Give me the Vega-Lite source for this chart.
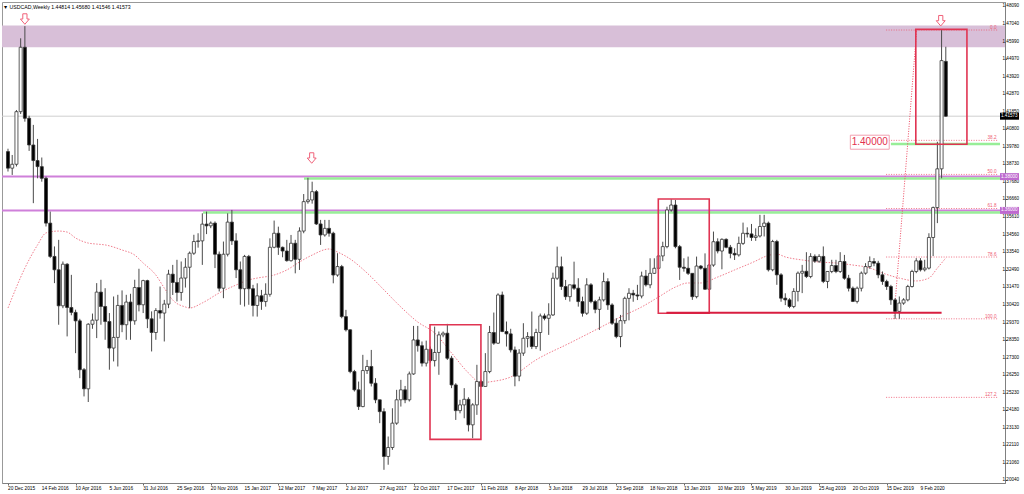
{
"$schema":"https://vega.github.io/schema/vega-lite/v6.json",
"width":1003,"height":481,"autosize":"none",
"padding":{"left":2,"top":2,"right":19,"bottom":11},
"background":"#ffffff",
"config":{"view":{"stroke":"#999999"},"font":"Liberation Sans","axis":{"labelOverlap":false,"labelFlush":false,"labelBound":false,"grid":false}},
"title":{"text":"▼ USDCAD,Weekly  1.44814 1.45680 1.41546 1.41573","anchor":"start","offset":-8,"dx":2,"fontSize":5.2,"fontWeight":"normal","font":"Liberation Sans","color":"#000000"},
"datasets":{
"c":[
{"d":"2015-12-20","o":1.3948,"h":1.3965,"l":1.3830,"c":1.3850},
{"d":"2015-12-27","o":1.3850,"h":1.3928,"l":1.3810,"c":1.3873},
{"d":"2016-01-03","o":1.3873,"h":1.4194,"l":1.3860,"c":1.4184},
{"d":"2016-01-10","o":1.4184,"h":1.4618,"l":1.4170,"c":1.4565},
{"d":"2016-01-17","o":1.4565,"h":1.4690,"l":1.4125,"c":1.4145},
{"d":"2016-01-24","o":1.4145,"h":1.4160,"l":1.3952,"c":1.3987},
{"d":"2016-01-31","o":1.3987,"h":1.4106,"l":1.3643,"c":1.3895},
{"d":"2016-02-07","o":1.3895,"h":1.4023,"l":1.3790,"c":1.3859},
{"d":"2016-02-14","o":1.3859,"h":1.3913,"l":1.3770,"c":1.3790},
{"d":"2016-02-21","o":1.3790,"h":1.3800,"l":1.3505,"c":1.3525},
{"d":"2016-02-28","o":1.3525,"h":1.3593,"l":1.3318,"c":1.3328},
{"d":"2016-03-06","o":1.3328,"h":1.3387,"l":1.3170,"c":1.3249},
{"d":"2016-03-13","o":1.3249,"h":1.3426,"l":1.2924,"c":1.3036},
{"d":"2016-03-20","o":1.3036,"h":1.3298,"l":1.3022,"c":1.3282},
{"d":"2016-03-27","o":1.3282,"h":1.3288,"l":1.2855,"c":1.3026},
{"d":"2016-04-03","o":1.3026,"h":1.3219,"l":1.2980,"c":1.2997},
{"d":"2016-04-10","o":1.2997,"h":1.3013,"l":1.2756,"c":1.2947},
{"d":"2016-04-17","o":1.2947,"h":1.2959,"l":1.2608,"c":1.2658},
{"d":"2016-04-24","o":1.2658,"h":1.2668,"l":1.2500,"c":1.2545},
{"d":"2016-05-01","o":1.2545,"h":1.2933,"l":1.2467,"c":1.2927},
{"d":"2016-05-08","o":1.2927,"h":1.2990,"l":1.2900,"c":1.2951},
{"d":"2016-05-15","o":1.2951,"h":1.3170,"l":1.2845,"c":1.3117},
{"d":"2016-05-22","o":1.3117,"h":1.3190,"l":1.2924,"c":1.3032},
{"d":"2016-05-29","o":1.3032,"h":1.3140,"l":1.2835,"c":1.2943},
{"d":"2016-06-05","o":1.2943,"h":1.2993,"l":1.2658,"c":1.2786},
{"d":"2016-06-12","o":1.2786,"h":1.3091,"l":1.2707,"c":1.2849},
{"d":"2016-06-19","o":1.2849,"h":1.3101,"l":1.2677,"c":1.3038},
{"d":"2016-06-26","o":1.3038,"h":1.3127,"l":1.2880,"c":1.2924},
{"d":"2016-07-03","o":1.2924,"h":1.3101,"l":1.2835,"c":1.3058},
{"d":"2016-07-10","o":1.3058,"h":1.3107,"l":1.2835,"c":1.2947},
{"d":"2016-07-17","o":1.2947,"h":1.3190,"l":1.2924,"c":1.3144},
{"d":"2016-07-24","o":1.3144,"h":1.3255,"l":1.3003,"c":1.3042},
{"d":"2016-07-31","o":1.3042,"h":1.3190,"l":1.2993,"c":1.3185},
{"d":"2016-08-07","o":1.3185,"h":1.3190,"l":1.2904,"c":1.2959},
{"d":"2016-08-14","o":1.2959,"h":1.3003,"l":1.2766,"c":1.2878},
{"d":"2016-08-21","o":1.2878,"h":1.3022,"l":1.2835,"c":1.3008},
{"d":"2016-08-28","o":1.3008,"h":1.3150,"l":1.2960,"c":1.2993},
{"d":"2016-09-04","o":1.2993,"h":1.3071,"l":1.2825,"c":1.3046},
{"d":"2016-09-11","o":1.3046,"h":1.3249,"l":1.3022,"c":1.3223},
{"d":"2016-09-18","o":1.3223,"h":1.3278,"l":1.3100,"c":1.3174},
{"d":"2016-09-25","o":1.3174,"h":1.3308,"l":1.3062,"c":1.3115},
{"d":"2016-10-02","o":1.3115,"h":1.3298,"l":1.3066,"c":1.3200},
{"d":"2016-10-09","o":1.3200,"h":1.3318,"l":1.3144,"c":1.3264},
{"d":"2016-10-16","o":1.3264,"h":1.3357,"l":1.3022,"c":1.3347},
{"d":"2016-10-23","o":1.3347,"h":1.3456,"l":1.3337,"c":1.3416},
{"d":"2016-10-30","o":1.3416,"h":1.3465,"l":1.3380,"c":1.3420},
{"d":"2016-11-06","o":1.3420,"h":1.3583,"l":1.3278,"c":1.3519},
{"d":"2016-11-13","o":1.3519,"h":1.3593,"l":1.3460,"c":1.3509},
{"d":"2016-11-20","o":1.3509,"h":1.3535,"l":1.3495,"c":1.3525},
{"d":"2016-11-27","o":1.3525,"h":1.3535,"l":1.3259,"c":1.3341},
{"d":"2016-12-04","o":1.3341,"h":1.3357,"l":1.3121,"c":1.3140},
{"d":"2016-12-11","o":1.3140,"h":1.3416,"l":1.3081,"c":1.3341},
{"d":"2016-12-18","o":1.3341,"h":1.3583,"l":1.3328,"c":1.3531},
{"d":"2016-12-25","o":1.3531,"h":1.3603,"l":1.3396,"c":1.3420},
{"d":"2017-01-01","o":1.3420,"h":1.3465,"l":1.3200,"c":1.3249},
{"d":"2017-01-08","o":1.3249,"h":1.3298,"l":1.3042,"c":1.3137},
{"d":"2017-01-15","o":1.3137,"h":1.3337,"l":1.3032,"c":1.3328},
{"d":"2017-01-22","o":1.3328,"h":1.3337,"l":1.3042,"c":1.3137},
{"d":"2017-01-29","o":1.3137,"h":1.3160,"l":1.2973,"c":1.3038},
{"d":"2017-02-05","o":1.3038,"h":1.3169,"l":1.2972,"c":1.3095},
{"d":"2017-02-12","o":1.3095,"h":1.3130,"l":1.3012,"c":1.3061},
{"d":"2017-02-19","o":1.3061,"h":1.3169,"l":1.3031,"c":1.3104},
{"d":"2017-02-26","o":1.3104,"h":1.3435,"l":1.3090,"c":1.3382},
{"d":"2017-03-05","o":1.3382,"h":1.3540,"l":1.3376,"c":1.3465},
{"d":"2017-03-12","o":1.3465,"h":1.3504,"l":1.3337,"c":1.3382},
{"d":"2017-03-19","o":1.3382,"h":1.3386,"l":1.3323,"c":1.3360},
{"d":"2017-03-26","o":1.3360,"h":1.3426,"l":1.3297,"c":1.3303},
{"d":"2017-04-02","o":1.3303,"h":1.3455,"l":1.3297,"c":1.3406},
{"d":"2017-04-09","o":1.3406,"h":1.3426,"l":1.3228,"c":1.3311},
{"d":"2017-04-16","o":1.3311,"h":1.3500,"l":1.3248,"c":1.3478},
{"d":"2017-04-23","o":1.3478,"h":1.3697,"l":1.3465,"c":1.3652},
{"d":"2017-04-30","o":1.3652,"h":1.3793,"l":1.3640,"c":1.3662},
{"d":"2017-05-07","o":1.3662,"h":1.3770,"l":1.3640,"c":1.3711},
{"d":"2017-05-14","o":1.3711,"h":1.3721,"l":1.3514,"c":1.3520},
{"d":"2017-05-21","o":1.3520,"h":1.3544,"l":1.3396,"c":1.3455},
{"d":"2017-05-28","o":1.3455,"h":1.3544,"l":1.3445,"c":1.3494},
{"d":"2017-06-04","o":1.3494,"h":1.3544,"l":1.3445,"c":1.3465},
{"d":"2017-06-11","o":1.3465,"h":1.3474,"l":1.3169,"c":1.3218},
{"d":"2017-06-18","o":1.3218,"h":1.3347,"l":1.3208,"c":1.3268},
{"d":"2017-06-25","o":1.3268,"h":1.3278,"l":1.2962,"c":1.2972},
{"d":"2017-07-02","o":1.2972,"h":1.3012,"l":1.2884,"c":1.2894},
{"d":"2017-07-09","o":1.2894,"h":1.2897,"l":1.2637,"c":1.2647},
{"d":"2017-07-16","o":1.2647,"h":1.2657,"l":1.2529,"c":1.2539},
{"d":"2017-07-23","o":1.2539,"h":1.2588,"l":1.2420,"c":1.2440},
{"d":"2017-07-30","o":1.2440,"h":1.2746,"l":1.2436,"c":1.2653},
{"d":"2017-08-06","o":1.2653,"h":1.2716,"l":1.2633,"c":1.2677},
{"d":"2017-08-13","o":1.2677,"h":1.2775,"l":1.2559,"c":1.2578},
{"d":"2017-08-20","o":1.2578,"h":1.2608,"l":1.2460,"c":1.2480},
{"d":"2017-08-27","o":1.2480,"h":1.2480,"l":1.2342,"c":1.2410},
{"d":"2017-09-03","o":1.2410,"h":1.2430,"l":1.2066,"c":1.2145},
{"d":"2017-09-10","o":1.2145,"h":1.2263,"l":1.2096,"c":1.2198},
{"d":"2017-09-17","o":1.2198,"h":1.2430,"l":1.2184,"c":1.2342},
{"d":"2017-09-24","o":1.2342,"h":1.2539,"l":1.2332,"c":1.2480},
{"d":"2017-10-01","o":1.2480,"h":1.2598,"l":1.2440,"c":1.2539},
{"d":"2017-10-08","o":1.2539,"h":1.2562,"l":1.2460,"c":1.2480},
{"d":"2017-10-15","o":1.2480,"h":1.2647,"l":1.2470,"c":1.2633},
{"d":"2017-10-22","o":1.2633,"h":1.2917,"l":1.2628,"c":1.2834},
{"d":"2017-10-29","o":1.2834,"h":1.2917,"l":1.2765,"c":1.2800},
{"d":"2017-11-05","o":1.2800,"h":1.2825,"l":1.2677,"c":1.2697},
{"d":"2017-11-12","o":1.2697,"h":1.2830,"l":1.2677,"c":1.2779},
{"d":"2017-11-19","o":1.2779,"h":1.2795,"l":1.2700,"c":1.2712},
{"d":"2017-11-26","o":1.2712,"h":1.2913,"l":1.2677,"c":1.2760},
{"d":"2017-12-03","o":1.2760,"h":1.2884,"l":1.2628,"c":1.2864},
{"d":"2017-12-10","o":1.2864,"h":1.2884,"l":1.2850,"c":1.2874},
{"d":"2017-12-17","o":1.2874,"h":1.2929,"l":1.2716,"c":1.2726},
{"d":"2017-12-24","o":1.2726,"h":1.2740,"l":1.2549,"c":1.2568},
{"d":"2017-12-31","o":1.2568,"h":1.2578,"l":1.2361,"c":1.2416},
{"d":"2018-01-07","o":1.2416,"h":1.2480,"l":1.2400,"c":1.2450},
{"d":"2018-01-14","o":1.2450,"h":1.2549,"l":1.2371,"c":1.2483},
{"d":"2018-01-21","o":1.2483,"h":1.2495,"l":1.2293,"c":1.2332},
{"d":"2018-01-28","o":1.2332,"h":1.2460,"l":1.2253,"c":1.2450},
{"d":"2018-02-04","o":1.2450,"h":1.2687,"l":1.2391,"c":1.2588},
{"d":"2018-02-11","o":1.2588,"h":1.2598,"l":1.2555,"c":1.2559},
{"d":"2018-02-18","o":1.2559,"h":1.2756,"l":1.2559,"c":1.2647},
{"d":"2018-02-25","o":1.2647,"h":1.2917,"l":1.2637,"c":1.2878},
{"d":"2018-03-04","o":1.2878,"h":1.2996,"l":1.2805,"c":1.2815},
{"d":"2018-03-11","o":1.2815,"h":1.3110,"l":1.2810,"c":1.3100},
{"d":"2018-03-18","o":1.3100,"h":1.3120,"l":1.2880,"c":1.2884},
{"d":"2018-03-25","o":1.2884,"h":1.2943,"l":1.2795,"c":1.2870},
{"d":"2018-04-01","o":1.2870,"h":1.2900,"l":1.2760,"c":1.2775},
{"d":"2018-04-08","o":1.2775,"h":1.2795,"l":1.2560,"c":1.2620},
{"d":"2018-04-15","o":1.2620,"h":1.2780,"l":1.2590,"c":1.2756},
{"d":"2018-04-22","o":1.2756,"h":1.2933,"l":1.2740,"c":1.2844},
{"d":"2018-04-29","o":1.2844,"h":1.2880,"l":1.2790,"c":1.2854},
{"d":"2018-05-06","o":1.2854,"h":1.3002,"l":1.2780,"c":1.2795},
{"d":"2018-05-13","o":1.2795,"h":1.2900,"l":1.2780,"c":1.2878},
{"d":"2018-05-20","o":1.2878,"h":1.2990,"l":1.2770,"c":1.2976},
{"d":"2018-05-27","o":1.2976,"h":1.2990,"l":1.2950,"c":1.2962},
{"d":"2018-06-03","o":1.2962,"h":1.3051,"l":1.2864,"c":1.2982},
{"d":"2018-06-10","o":1.2982,"h":1.3232,"l":1.2976,"c":1.3199},
{"d":"2018-06-17","o":1.3199,"h":1.3386,"l":1.3189,"c":1.3267},
{"d":"2018-06-24","o":1.3267,"h":1.3327,"l":1.3130,"c":1.3150},
{"d":"2018-07-01","o":1.3150,"h":1.3189,"l":1.3071,"c":1.3090},
{"d":"2018-07-08","o":1.3090,"h":1.3160,"l":1.3061,"c":1.3160},
{"d":"2018-07-15","o":1.3160,"h":1.3297,"l":1.3130,"c":1.3140},
{"d":"2018-07-22","o":1.3140,"h":1.3199,"l":1.3031,"c":1.3061},
{"d":"2018-07-29","o":1.3061,"h":1.3090,"l":1.2972,"c":1.2992},
{"d":"2018-08-05","o":1.2992,"h":1.3199,"l":1.2982,"c":1.3160},
{"d":"2018-08-12","o":1.3160,"h":1.3170,"l":1.3051,"c":1.3061},
{"d":"2018-08-19","o":1.3061,"h":1.3071,"l":1.2992,"c":1.3015},
{"d":"2018-08-26","o":1.3015,"h":1.3090,"l":1.2893,"c":1.3071},
{"d":"2018-09-02","o":1.3071,"h":1.3232,"l":1.3061,"c":1.3179},
{"d":"2018-09-09","o":1.3179,"h":1.3199,"l":1.3012,"c":1.3041},
{"d":"2018-09-16","o":1.3041,"h":1.3051,"l":1.2923,"c":1.2933},
{"d":"2018-09-23","o":1.2933,"h":1.2962,"l":1.2844,"c":1.2854},
{"d":"2018-09-30","o":1.2854,"h":1.2982,"l":1.2791,"c":1.2948},
{"d":"2018-10-07","o":1.2948,"h":1.3090,"l":1.2930,"c":1.3080},
{"d":"2018-10-14","o":1.3080,"h":1.3140,"l":1.2950,"c":1.3110},
{"d":"2018-10-21","o":1.3110,"h":1.3130,"l":1.3060,"c":1.3100},
{"d":"2018-10-28","o":1.3100,"h":1.3160,"l":1.3070,"c":1.3094},
{"d":"2018-11-04","o":1.3094,"h":1.3238,"l":1.3080,"c":1.3212},
{"d":"2018-11-11","o":1.3212,"h":1.3248,"l":1.3150,"c":1.3160},
{"d":"2018-11-18","o":1.3160,"h":1.3317,"l":1.3140,"c":1.3228},
{"d":"2018-11-25","o":1.3228,"h":1.3317,"l":1.3224,"c":1.3258},
{"d":"2018-12-02","o":1.3258,"h":1.3331,"l":1.3250,"c":1.3331},
{"d":"2018-12-09","o":1.3331,"h":1.3415,"l":1.3300,"c":1.3386},
{"d":"2018-12-16","o":1.3386,"h":1.3622,"l":1.3376,"c":1.3603},
{"d":"2018-12-23","o":1.3603,"h":1.3666,"l":1.3593,"c":1.3632},
{"d":"2018-12-30","o":1.3632,"h":1.3662,"l":1.3376,"c":1.3386},
{"d":"2019-01-06","o":1.3386,"h":1.3396,"l":1.3189,"c":1.3264},
{"d":"2019-01-13","o":1.3264,"h":1.3317,"l":1.3238,"c":1.3258},
{"d":"2019-01-20","o":1.3258,"h":1.3327,"l":1.3218,"c":1.3228},
{"d":"2019-01-27","o":1.3228,"h":1.3228,"l":1.3071,"c":1.3090},
{"d":"2019-02-03","o":1.3090,"h":1.3327,"l":1.3080,"c":1.3271},
{"d":"2019-02-10","o":1.3271,"h":1.3277,"l":1.3250,"c":1.3258},
{"d":"2019-02-17","o":1.3258,"h":1.3346,"l":1.3130,"c":1.3134},
{"d":"2019-02-24","o":1.3134,"h":1.3283,"l":1.3130,"c":1.3277},
{"d":"2019-03-03","o":1.3277,"h":1.3475,"l":1.3267,"c":1.3415},
{"d":"2019-03-10","o":1.3415,"h":1.3435,"l":1.3346,"c":1.3360},
{"d":"2019-03-17","o":1.3360,"h":1.3435,"l":1.3252,"c":1.3429},
{"d":"2019-03-24","o":1.3429,"h":1.3435,"l":1.3376,"c":1.3382},
{"d":"2019-03-31","o":1.3382,"h":1.3396,"l":1.3317,"c":1.3346},
{"d":"2019-04-07","o":1.3346,"h":1.3376,"l":1.3307,"c":1.3337},
{"d":"2019-04-14","o":1.3337,"h":1.3445,"l":1.3327,"c":1.3405},
{"d":"2019-04-21","o":1.3405,"h":1.3528,"l":1.3396,"c":1.3465},
{"d":"2019-04-28","o":1.3465,"h":1.3500,"l":1.3440,"c":1.3461},
{"d":"2019-05-05","o":1.3461,"h":1.3520,"l":1.3420,"c":1.3440},
{"d":"2019-05-12","o":1.3440,"h":1.3494,"l":1.3420,"c":1.3449},
{"d":"2019-05-19","o":1.3449,"h":1.3574,"l":1.3440,"c":1.3505},
{"d":"2019-05-26","o":1.3505,"h":1.3574,"l":1.3446,"c":1.3525},
{"d":"2019-06-02","o":1.3525,"h":1.3534,"l":1.3239,"c":1.3249},
{"d":"2019-06-09","o":1.3249,"h":1.3426,"l":1.3240,"c":1.3416},
{"d":"2019-06-16","o":1.3416,"h":1.3426,"l":1.3160,"c":1.3219},
{"d":"2019-06-23","o":1.3219,"h":1.3229,"l":1.3060,"c":1.3081},
{"d":"2019-06-30","o":1.3081,"h":1.3110,"l":1.3040,"c":1.3071},
{"d":"2019-07-07","o":1.3071,"h":1.3081,"l":1.3022,"c":1.3032},
{"d":"2019-07-14","o":1.3032,"h":1.3140,"l":1.3022,"c":1.3121},
{"d":"2019-07-21","o":1.3121,"h":1.3239,"l":1.3062,"c":1.3229},
{"d":"2019-07-28","o":1.3229,"h":1.3278,"l":1.3111,"c":1.3240},
{"d":"2019-08-04","o":1.3240,"h":1.3353,"l":1.3200,"c":1.3209},
{"d":"2019-08-11","o":1.3209,"h":1.3347,"l":1.3199,"c":1.3328},
{"d":"2019-08-18","o":1.3328,"h":1.3340,"l":1.3290,"c":1.3300},
{"d":"2019-08-25","o":1.3300,"h":1.3341,"l":1.3290,"c":1.3328},
{"d":"2019-09-01","o":1.3328,"h":1.3387,"l":1.3170,"c":1.3180},
{"d":"2019-09-08","o":1.3180,"h":1.3239,"l":1.3140,"c":1.3239},
{"d":"2019-09-15","o":1.3239,"h":1.3308,"l":1.3229,"c":1.3274},
{"d":"2019-09-22","o":1.3274,"h":1.3308,"l":1.3229,"c":1.3239},
{"d":"2019-09-29","o":1.3239,"h":1.3353,"l":1.3230,"c":1.3298},
{"d":"2019-10-06","o":1.3298,"h":1.3337,"l":1.3190,"c":1.3199},
{"d":"2019-10-13","o":1.3199,"h":1.3219,"l":1.3121,"c":1.3140},
{"d":"2019-10-20","o":1.3140,"h":1.3150,"l":1.3058,"c":1.3062},
{"d":"2019-10-27","o":1.3062,"h":1.3150,"l":1.3050,"c":1.3140},
{"d":"2019-11-03","o":1.3140,"h":1.3239,"l":1.3121,"c":1.3229},
{"d":"2019-11-10","o":1.3229,"h":1.3288,"l":1.3220,"c":1.3268},
{"d":"2019-11-17","o":1.3268,"h":1.3328,"l":1.3255,"c":1.3298},
{"d":"2019-11-24","o":1.3298,"h":1.3318,"l":1.3270,"c":1.3288},
{"d":"2019-12-01","o":1.3288,"h":1.3302,"l":1.3199,"c":1.3219},
{"d":"2019-12-08","o":1.3219,"h":1.3239,"l":1.3160,"c":1.3180},
{"d":"2019-12-15","o":1.3180,"h":1.3190,"l":1.3130,"c":1.3150},
{"d":"2019-12-22","o":1.3150,"h":1.3160,"l":1.3042,"c":1.3071},
{"d":"2019-12-29","o":1.3071,"h":1.3081,"l":1.2959,"c":1.3003},
{"d":"2020-01-05","o":1.3003,"h":1.3091,"l":1.2959,"c":1.3052},
{"d":"2020-01-12","o":1.3052,"h":1.3081,"l":1.3042,"c":1.3071},
{"d":"2020-01-19","o":1.3071,"h":1.3160,"l":1.3062,"c":1.3150},
{"d":"2020-01-26","o":1.3150,"h":1.3249,"l":1.3144,"c":1.3239},
{"d":"2020-02-02","o":1.3239,"h":1.3318,"l":1.3229,"c":1.3302},
{"d":"2020-02-09","o":1.3302,"h":1.3318,"l":1.3239,"c":1.3249},
{"d":"2020-02-16","o":1.3249,"h":1.3308,"l":1.3239,"c":1.3259},
{"d":"2020-02-23","o":1.3259,"h":1.3465,"l":1.3251,"c":1.3440},
{"d":"2020-03-01","o":1.3440,"h":1.3623,"l":1.3330,"c":1.3617},
{"d":"2020-03-08","o":1.3617,"h":1.4006,"l":1.3525,"c":1.3846},
{"d":"2020-03-15","o":1.3846,"h":1.4667,"l":1.3790,"c":1.4486},
{"d":"2020-03-22","o":1.44814,"h":1.4568,"l":1.41546,"c":1.41573}
],
"ma":[
{"d":"2015-12-20","v":1.3023},{"d":"2016-01-17","v":1.3259},{"d":"2016-02-07","v":1.3396},{"d":"2016-02-21","v":1.3467},{"d":"2016-03-13","v":1.3478},{"d":"2016-03-27","v":1.3472},{"d":"2016-04-10","v":1.3437},{"d":"2016-05-01","v":1.3407},{"d":"2016-05-15","v":1.3401},{"d":"2016-05-29","v":1.3396},{"d":"2016-06-26","v":1.3366},{"d":"2016-07-17","v":1.3336},{"d":"2016-07-31","v":1.3289},{"d":"2016-08-21","v":1.3218},{"d":"2016-09-04","v":1.3141},{"d":"2016-09-18","v":1.3070},{"d":"2016-10-09","v":1.3029},{"d":"2016-10-16","v":1.3023},{"d":"2016-11-06","v":1.3053},{"d":"2016-12-04","v":1.3112},{"d":"2017-01-01","v":1.3159},{"d":"2017-01-22","v":1.3189},{"d":"2017-02-05","v":1.3200},{"d":"2017-03-05","v":1.3218},{"d":"2017-03-26","v":1.3248},{"d":"2017-04-16","v":1.3295},{"d":"2017-05-07","v":1.3336},{"d":"2017-06-04","v":1.3372},{"d":"2017-06-18","v":1.3354},{"d":"2017-07-09","v":1.3313},{"d":"2017-08-06","v":1.3230},{"d":"2017-09-03","v":1.3130},{"d":"2017-10-01","v":1.3029},{"d":"2017-10-29","v":1.2940},{"d":"2017-11-26","v":1.2875},{"d":"2017-12-24","v":1.2757},{"d":"2018-01-21","v":1.2639},{"d":"2018-02-11","v":1.2580},{"d":"2018-02-25","v":1.2586},{"d":"2018-04-01","v":1.2615},{"d":"2018-05-13","v":1.2716},{"d":"2018-07-08","v":1.2816},{"d":"2018-08-26","v":1.2905},{"d":"2018-09-30","v":1.2970},{"d":"2018-11-04","v":1.3029},{"d":"2018-12-02","v":1.3088},{"d":"2018-12-30","v":1.3147},{"d":"2019-01-20","v":1.3171},{"d":"2019-02-10","v":1.3171},{"d":"2019-03-10","v":1.3206},{"d":"2019-04-07","v":1.3248},{"d":"2019-05-12","v":1.3301},{"d":"2019-05-26","v":1.3325},{"d":"2019-06-16","v":1.3342},{"d":"2019-06-30","v":1.3325},{"d":"2019-07-28","v":1.3307},{"d":"2019-08-25","v":1.3295},{"d":"2019-09-22","v":1.3289},{"d":"2019-10-20","v":1.3277},{"d":"2019-11-17","v":1.3260},{"d":"2019-12-08","v":1.3230},{"d":"2020-01-05","v":1.3200},{"d":"2020-02-02","v":1.3183},{"d":"2020-02-23","v":1.3200},{"d":"2020-03-08","v":1.3259},{"d":"2020-03-22","v":1.3319}
],
"green":[
{"a":"2017-04-23T12:00:00Z","b":"2020-06-19T19:00:00Z","p":1.3789},
{"a":"2016-11-07T05:00:00Z","b":"2020-06-19T19:00:00Z","p":1.3588},
{"a":"2019-12-22T00:00:00Z","b":"2020-06-19T19:00:00Z","p":1.3993}
],
"boxes":[
{"a":"2017-11-18T07:00:00Z","b":"2018-02-10T16:00:00Z","top":1.2924,"bot":1.2246},
{"a":"2018-12-01T14:00:00Z","b":"2019-02-24T00:00:00Z","top":1.3668,"bot":1.2992},
{"a":"2020-02-01T07:00:00Z","b":"2020-04-26T00:00:00Z","top":1.4671,"bot":1.3991}
],
"fib":[
{"p":1.4667,"t":"0.0"},{"p":1.40145,"t":"38.2"},{"p":1.3813,"t":"50.0"},{"p":1.36114,"t":"61.8"},{"p":1.33245,"t":"78.6"},{"p":1.2959,"t":"100.0"},{"p":1.24944,"t":"127.2"}
],
"arrows":[
{"d":"2016-01-17T00:00:00Z","p":1.4732},
{"d":"2017-05-06T07:00:00Z","p":1.3910},
{"d":"2020-03-13T14:00:00Z","p":1.4722}
],
"tags":[
{"p":1.41573,"t":"1.41573","k":"cur"},{"p":1.38,"t":"1.38000","k":"lvl"},{"p":1.36,"t":"1.36000","k":"lvl"}
],
"ylab":[
{"v":1.2004,"t":"1.20040"},{"v":1.2106,"t":"1.21060"},{"v":1.2211,"t":"1.22110"},{"v":1.2313,"t":"1.23130"},{"v":1.2418,"t":"1.24180"},{"v":1.2523,"t":"1.25230"},{"v":1.2625,"t":"1.26250"},{"v":1.273,"t":"1.27300"},{"v":1.2835,"t":"1.28350"},{"v":1.2937,"t":"1.29370"},{"v":1.3042,"t":"1.30420"},{"v":1.3147,"t":"1.31470"},{"v":1.3249,"t":"1.32490"},{"v":1.3354,"t":"1.33540"},{"v":1.3456,"t":"1.34560"},{"v":1.3561,"t":"1.35610"},{"v":1.3666,"t":"1.36660"},{"v":1.3768,"t":"1.37680"},{"v":1.3873,"t":"1.38730"},{"v":1.3978,"t":"1.39780"},{"v":1.408,"t":"1.40800"},{"v":1.4185,"t":"1.41850"},{"v":1.4287,"t":"1.42870"},{"v":1.4392,"t":"1.43920"},{"v":1.4497,"t":"1.44970"},{"v":1.4599,"t":"1.45990"},{"v":1.4704,"t":"1.47040"},{"v":1.4809,"t":"1.48090"}
],
"xlab":[
{"d":"2015-12-20","t":"20 Dec 2015"},{"d":"2016-02-14","t":"14 Feb 2016"},{"d":"2016-04-10","t":"10 Apr 2016"},{"d":"2016-06-05","t":"5 Jun 2016"},{"d":"2016-07-31","t":"31 Jul 2016"},{"d":"2016-09-25","t":"25 Sep 2016"},{"d":"2016-11-20","t":"20 Nov 2016"},{"d":"2017-01-15","t":"15 Jan 2017"},{"d":"2017-03-12","t":"12 Mar 2017"},{"d":"2017-05-07","t":"7 May 2017"},{"d":"2017-07-02","t":"2 Jul 2017"},{"d":"2017-08-27","t":"27 Aug 2017"},{"d":"2017-10-22","t":"22 Oct 2017"},{"d":"2017-12-17","t":"17 Dec 2017"},{"d":"2018-02-11","t":"11 Feb 2018"},{"d":"2018-04-08","t":"8 Apr 2018"},{"d":"2018-06-03","t":"3 Jun 2018"},{"d":"2018-07-29","t":"29 Jul 2018"},{"d":"2018-09-23","t":"23 Sep 2018"},{"d":"2018-11-18","t":"18 Nov 2018"},{"d":"2019-01-13","t":"13 Jan 2019"},{"d":"2019-03-10","t":"10 Mar 2019"},{"d":"2019-05-05","t":"5 May 2019"},{"d":"2019-06-30","t":"30 Jun 2019"},{"d":"2019-08-25","t":"25 Aug 2019"},{"d":"2019-10-20","t":"20 Oct 2019"},{"d":"2019-12-15","t":"15 Dec 2019"},{"d":"2020-02-09","t":"9 Feb 2020"}
]
},
"layer":[
{"data":{"values":[{"top":1.4693,"bot":1.4565}]},"mark":{"type":"rect","fill":"#D8BFD8"},
 "encoding":{"y":{"field":"top","type":"quantitative","title":null,"scale":{"nice":false,"zero":false,"domain":[1.1988,1.48327]}},"y2":{"field":"bot"}}},
{"data":{"values":[{"p":1.41573}]},"mark":{"type":"rule","color":"#CFCFCF","strokeWidth":1},
 "encoding":{"y":{"field":"p","type":"quantitative","title":null,"scale":{"nice":false,"zero":false,"domain":[1.1988,1.48327]}}}},
{"data":{"values":[{"p":1.38},{"p":1.36}]},"mark":{"type":"rule","color":"#CF80DA","strokeWidth":2},
 "encoding":{"y":{"field":"p","type":"quantitative","title":null,"scale":{"nice":false,"zero":false,"domain":[1.1988,1.48327]}}}},
{"data":{"name":"green"},"mark":{"type":"rule","color":"#98EE98","strokeWidth":2.5},
 "encoding":{"x":{"field":"a","type":"temporal","title":null,"scale":{"type":"utc","nice":false,"domain":[{"year":2015,"month":12,"date":18,"hours":8,"minutes":40,"utc":true},{"year":2020,"month":6,"date":19,"hours":19,"utc":true}]}},"x2":{"field":"b"},
 "y":{"field":"p","type":"quantitative","title":null,"scale":{"nice":false,"zero":false,"domain":[1.1988,1.48327]}}}},
{"data":{"name":"ma"},"mark":{"type":"line","color":"#F07C8C","strokeWidth":1,"strokeDash":[1.5,1.5],"interpolate":"monotone","clip":true},
 "encoding":{"x":{"field":"d","type":"temporal","title":null,"scale":{"type":"utc","nice":false,"domain":[{"year":2015,"month":12,"date":18,"hours":8,"minutes":40,"utc":true},{"year":2020,"month":6,"date":19,"hours":19,"utc":true}]}},
 "y":{"field":"v","type":"quantitative","title":null,"scale":{"nice":false,"zero":false,"domain":[1.1988,1.48327]}}}},
{"data":{"name":"fib"},"mark":{"type":"rule","color":"#EE5A72","strokeWidth":1,"strokeDash":[1,1.5],"opacity":0.85},
 "encoding":{"x":{"datum":{"year":2019,"month":12,"date":14,"hours":2,"utc":true},"type":"temporal","title":null,"scale":{"type":"utc","nice":false,"domain":[{"year":2015,"month":12,"date":18,"hours":8,"minutes":40,"utc":true},{"year":2020,"month":6,"date":19,"hours":19,"utc":true}]}},
 "x2":{"datum":{"year":2020,"month":6,"date":17,"hours":12,"utc":true}},
 "y":{"field":"p","type":"quantitative","title":null,"scale":{"nice":false,"zero":false,"domain":[1.1988,1.48327]}}}},
{"data":{"name":"fib"},"mark":{"type":"text","color":"#EE5A72","fontSize":4.6,"align":"right","baseline":"bottom","dy":-0.3,"font":"Liberation Sans"},
 "encoding":{"x":{"datum":{"year":2020,"month":6,"date":14,"utc":true},"type":"temporal","title":null,"scale":{"type":"utc","nice":false,"domain":[{"year":2015,"month":12,"date":18,"hours":8,"minutes":40,"utc":true},{"year":2020,"month":6,"date":19,"hours":19,"utc":true}]}},
 "y":{"field":"p","type":"quantitative","title":null,"scale":{"nice":false,"zero":false,"domain":[1.1988,1.48327]}},"text":{"field":"t"}}},
{"data":{"values":[{"d":"2019-12-26T22:00:00Z","p":1.2959},{"d":"2020-02-02T17:00:00Z","p":1.4667}]},"mark":{"type":"line","color":"#EE4A62","strokeWidth":1,"strokeDash":[1,1.5]},
 "encoding":{"x":{"field":"d","type":"temporal","title":null,"scale":{"type":"utc","nice":false,"domain":[{"year":2015,"month":12,"date":18,"hours":8,"minutes":40,"utc":true},{"year":2020,"month":6,"date":19,"hours":19,"utc":true}]}},
 "y":{"field":"p","type":"quantitative","title":null,"scale":{"nice":false,"zero":false,"domain":[1.1988,1.48327]}}}},
{"data":{"name":"c"},"mark":{"type":"rule","color":"#4a4a4a","strokeWidth":1,"clip":true},
 "encoding":{"x":{"field":"d","type":"temporal","title":null,"scale":{"type":"utc","nice":false,"domain":[{"year":2015,"month":12,"date":18,"hours":8,"minutes":40,"utc":true},{"year":2020,"month":6,"date":19,"hours":19,"utc":true}]},
   "axis":{"values":[{"year":2015,"month":12,"date":20,"utc":true},{"year":2016,"month":2,"date":14,"utc":true},{"year":2016,"month":4,"date":10,"utc":true},{"year":2016,"month":6,"date":5,"utc":true},{"year":2016,"month":7,"date":31,"utc":true},{"year":2016,"month":9,"date":25,"utc":true},{"year":2016,"month":11,"date":20,"utc":true},{"year":2017,"month":1,"date":15,"utc":true},{"year":2017,"month":3,"date":12,"utc":true},{"year":2017,"month":5,"date":7,"utc":true},{"year":2017,"month":7,"date":2,"utc":true},{"year":2017,"month":8,"date":27,"utc":true},{"year":2017,"month":10,"date":22,"utc":true},{"year":2017,"month":12,"date":17,"utc":true},{"year":2018,"month":2,"date":11,"utc":true},{"year":2018,"month":4,"date":8,"utc":true},{"year":2018,"month":6,"date":3,"utc":true},{"year":2018,"month":7,"date":29,"utc":true},{"year":2018,"month":9,"date":23,"utc":true},{"year":2018,"month":11,"date":18,"utc":true},{"year":2019,"month":1,"date":13,"utc":true},{"year":2019,"month":3,"date":10,"utc":true},{"year":2019,"month":5,"date":5,"utc":true},{"year":2019,"month":6,"date":30,"utc":true},{"year":2019,"month":8,"date":25,"utc":true},{"year":2019,"month":10,"date":20,"utc":true},{"year":2019,"month":12,"date":15,"utc":true},{"year":2020,"month":2,"date":9,"utc":true}],
   "labels":false,"tickSize":2,"tickColor":"#666666","domainColor":"#808080","grid":false,"title":null}},
 "y":{"field":"l","type":"quantitative","title":null,"scale":{"nice":false,"zero":false,"domain":[1.1988,1.48327]},
   "axis":{"orient":"right","values":[1.2004,1.2106,1.2211,1.2313,1.2418,1.2523,1.2625,1.273,1.2835,1.2937,1.3042,1.3147,1.3249,1.3354,1.3456,1.3561,1.3666,1.3768,1.3873,1.3978,1.408,1.4185,1.4287,1.4392,1.4497,1.4599,1.4704,1.4809],
   "labels":false,"tickSize":1.5,"tickColor":"#666666","domainColor":"#808080","grid":false,"title":null}},
 "y2":{"field":"h"}}},
{"data":{"name":"c"},"mark":{"type":"bar","size":3,"stroke":"#333333","strokeWidth":0.8,"clip":true},
 "encoding":{"x":{"field":"d","type":"temporal","title":null,"scale":{"type":"utc","nice":false,"domain":[{"year":2015,"month":12,"date":18,"hours":8,"minutes":40,"utc":true},{"year":2020,"month":6,"date":19,"hours":19,"utc":true}]}},
 "y":{"field":"o","type":"quantitative","title":null,"scale":{"nice":false,"zero":false,"domain":[1.1988,1.48327]}},"y2":{"field":"c"},
 "fill":{"condition":{"test":"datum.c >= datum.o","value":"#ffffff"},"value":"#000000"}}},
{"data":{"name":"boxes"},"mark":{"type":"rect","fill":null,"fillOpacity":0,"stroke":"#E03452","strokeWidth":1.6},
 "encoding":{"x":{"field":"a","type":"temporal","title":null,"scale":{"type":"utc","nice":false,"domain":[{"year":2015,"month":12,"date":18,"hours":8,"minutes":40,"utc":true},{"year":2020,"month":6,"date":19,"hours":19,"utc":true}]}},"x2":{"field":"b"},
 "y":{"field":"top","type":"quantitative","title":null,"scale":{"nice":false,"zero":false,"domain":[1.1988,1.48327]}},"y2":{"field":"bot"}}},
{"data":{"values":[{"a":"2018-12-15T00:00:00Z","b":"2020-03-15T00:00:00Z","p":1.2995}]},"mark":{"type":"rule","color":"#D81E40","strokeWidth":2},
 "encoding":{"x":{"field":"a","type":"temporal","title":null,"scale":{"type":"utc","nice":false,"domain":[{"year":2015,"month":12,"date":18,"hours":8,"minutes":40,"utc":true},{"year":2020,"month":6,"date":19,"hours":19,"utc":true}]}},"x2":{"field":"b"},
 "y":{"field":"p","type":"quantitative","title":null,"scale":{"nice":false,"zero":false,"domain":[1.1988,1.48327]}}}},
{"data":{"name":"arrows"},"mark":{"type":"point","shape":"M-0.4,-1L0.4,-1L0.4,0L0.85,0L0,1L-0.85,0L-0.4,0Z","size":110,"filled":true,"fill":"#ffffff","stroke":"#F0627A","strokeWidth":1,"opacity":1},
 "encoding":{"x":{"field":"d","type":"temporal","title":null,"scale":{"type":"utc","nice":false,"domain":[{"year":2015,"month":12,"date":18,"hours":8,"minutes":40,"utc":true},{"year":2020,"month":6,"date":19,"hours":19,"utc":true}]}},
 "y":{"field":"p","type":"quantitative","title":null,"scale":{"nice":false,"zero":false,"domain":[1.1988,1.48327]}}}},
{"data":{"values":[{"a":"2019-10-15T19:00:00Z","b":"2019-12-19T05:00:00Z","top":1.4045,"bot":1.3962}]},"mark":{"type":"rect","fill":"#ffffff","stroke":"#F2A0B0","strokeWidth":1},
 "encoding":{"x":{"field":"a","type":"temporal","title":null,"scale":{"type":"utc","nice":false,"domain":[{"year":2015,"month":12,"date":18,"hours":8,"minutes":40,"utc":true},{"year":2020,"month":6,"date":19,"hours":19,"utc":true}]}},"x2":{"field":"b"},
 "y":{"field":"top","type":"quantitative","title":null,"scale":{"nice":false,"zero":false,"domain":[1.1988,1.48327]}},"y2":{"field":"bot"}}},
{"data":{"values":[{"d":"2019-11-17T00:00:00Z","p":1.40035,"t":"1.40000"}]},"mark":{"type":"text","color":"#E3304E","fontSize":10,"align":"center","baseline":"middle","font":"Liberation Sans"},
 "encoding":{"x":{"field":"d","type":"temporal","title":null,"scale":{"type":"utc","nice":false,"domain":[{"year":2015,"month":12,"date":18,"hours":8,"minutes":40,"utc":true},{"year":2020,"month":6,"date":19,"hours":19,"utc":true}]}},
 "y":{"field":"p","type":"quantitative","title":null,"scale":{"nice":false,"zero":false,"domain":[1.1988,1.48327]}},"text":{"field":"t"}}},
{"data":{"name":"ylab"},"mark":{"type":"text","align":"left","baseline":"middle","dx":2.5,"fontSize":4.6,"color":"#000000","font":"Liberation Sans"},
 "encoding":{"x":{"datum":{"year":2020,"month":6,"date":19,"hours":19,"utc":true},"type":"temporal","title":null,"scale":{"type":"utc","nice":false,"domain":[{"year":2015,"month":12,"date":18,"hours":8,"minutes":40,"utc":true},{"year":2020,"month":6,"date":19,"hours":19,"utc":true}]}},
 "y":{"field":"v","type":"quantitative","title":null,"scale":{"nice":false,"zero":false,"domain":[1.1988,1.48327]}},"text":{"field":"t"}}},
{"data":{"name":"xlab"},"mark":{"type":"text","align":"left","baseline":"top","dy":2.5,"fontSize":4.8,"color":"#000000","font":"Liberation Sans"},
 "encoding":{"x":{"field":"d","type":"temporal","title":null,"scale":{"type":"utc","nice":false,"domain":[{"year":2015,"month":12,"date":18,"hours":8,"minutes":40,"utc":true},{"year":2020,"month":6,"date":19,"hours":19,"utc":true}]}},
 "y":{"datum":1.1988,"type":"quantitative","title":null,"scale":{"nice":false,"zero":false,"domain":[1.1988,1.48327]}},"text":{"field":"t"}}},
{"data":{"name":"tags"},"mark":{"type":"rect","x2Offset":19,"yOffset":-3.5,"y2Offset":3.5},
 "encoding":{"x":{"datum":{"year":2020,"month":6,"date":19,"hours":19,"utc":true},"type":"temporal","title":null,"scale":{"type":"utc","nice":false,"domain":[{"year":2015,"month":12,"date":18,"hours":8,"minutes":40,"utc":true},{"year":2020,"month":6,"date":19,"hours":19,"utc":true}]}},
 "x2":{"datum":{"year":2020,"month":6,"date":19,"hours":19,"utc":true}},
 "y":{"field":"p","type":"quantitative","title":null,"scale":{"nice":false,"zero":false,"domain":[1.1988,1.48327]}},"y2":{"field":"p"},
 "fill":{"field":"k","type":"nominal","scale":{"domain":["cur","lvl"],"range":["#000000","#BE6ACF"]},"legend":null}}},
{"data":{"name":"tags"},"mark":{"type":"text","align":"left","baseline":"middle","dx":1,"fontSize":4.6,"color":"#ffffff","font":"Liberation Sans"},
 "encoding":{"x":{"datum":{"year":2020,"month":6,"date":19,"hours":19,"utc":true},"type":"temporal","title":null,"scale":{"type":"utc","nice":false,"domain":[{"year":2015,"month":12,"date":18,"hours":8,"minutes":40,"utc":true},{"year":2020,"month":6,"date":19,"hours":19,"utc":true}]}},
 "y":{"field":"p","type":"quantitative","title":null,"scale":{"nice":false,"zero":false,"domain":[1.1988,1.48327]}},"text":{"field":"t"}}}
]
}
